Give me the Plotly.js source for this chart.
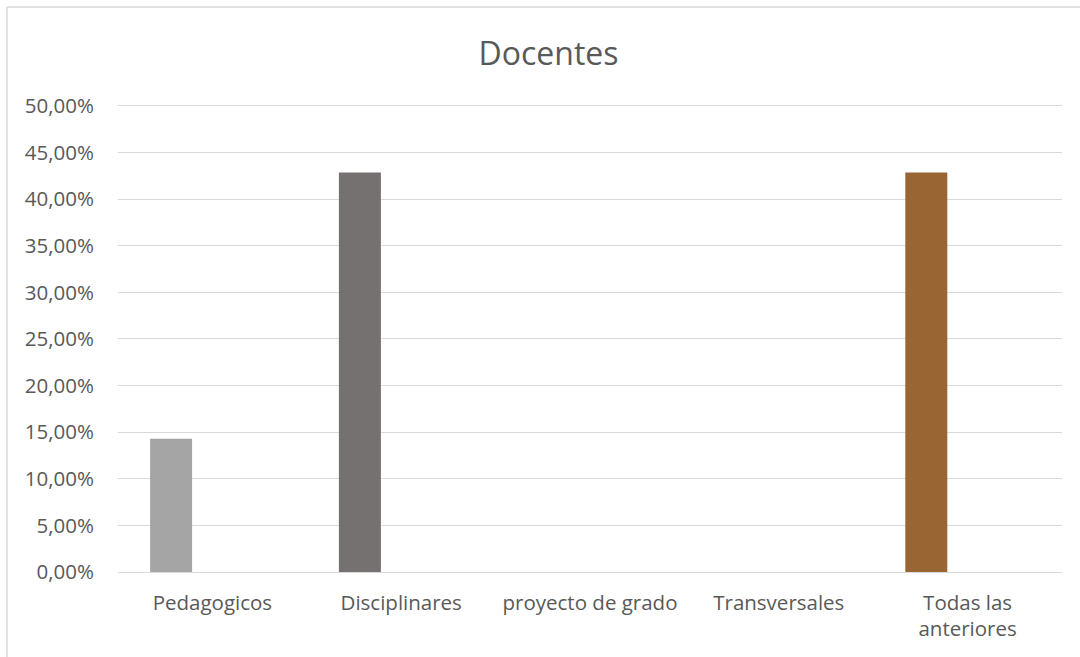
<!DOCTYPE html>
<html>
<head>
<meta charset="utf-8">
<script src="https://cdn.plot.ly/plotly-3.0.1.min.js"></script>
<style>
html,body{margin:0;padding:0;background:#fff;}
#chart{width:1080px;height:657px;}
</style>
</head>
<body>
<div id="chart"></div>
<script>
const categories = ["Pedagogicos", "Disciplinares", "proyecto de grado", "Transversales", "Todas las<br>anteriores"];
const values = [0.1429, 0.4286, 0, 0, 0.4286];
const barColors = ["#A5A5A5", "#767171", "#A5A5A5", "#767171", "#996633"];
const chartTitle = "Docentes";

const fontFamily = "Open Sans, Liberation Sans, sans-serif";
const textColor = "#595959";

const trace = {
  type: "bar",
  x: categories,
  y: values,
  marker: {color: barColors},
  width: 0.2225,
  offset: -0.33,
  hoverinfo: "x+y"
};

const layout = {
  width: 1080,
  height: 657,
  margin: {l: 118, r: 18, t: 104, b: 85},
  paper_bgcolor: "#ffffff",
  plot_bgcolor: "#ffffff",
  separators: ",.",
  showlegend: false,
  title: {
    text: chartTitle,
    font: {family: fontFamily, color: textColor, size: 32},
    x: (548.5 - 118) / 944, xref: "paper", xanchor: "center",
    y: 1 - 54/657, yref: "container", yanchor: "middle"
  },
  xaxis: {
    type: "category",
    showgrid: false,
    zeroline: false,
    showline: false,
    ticks: "outside",
    ticklen: 12,
    tickcolor: "rgba(0,0,0,0)",
    tickfont: {family: fontFamily, color: textColor, size: 20.5},
    fixedrange: true
  },
  yaxis: {
    range: [0, 0.502],
    dtick: 0.05,
    tick0: 0,
    tickformat: ".2%",
    showgrid: true,
    gridcolor: "#D9D9D9",
    gridwidth: 1,
    zeroline: true,
    zerolinecolor: "#D9D9D9",
    zerolinewidth: 1,
    showline: false,
    ticks: "outside",
    ticklen: 19,
    tickcolor: "rgba(0,0,0,0)",
    tickfont: {family: fontFamily, color: textColor, size: 20.5},
    fixedrange: true
  },
  shapes: [
    {type: "line", xref: "paper", yref: "paper", x0: -111/944, x1: 1.1, y0: 565/468, y1: 565/468,
     line: {color: "#D9D9D9", width: 1.5}},
    {type: "line", xref: "paper", yref: "paper", x0: -111/944, x1: -111/944, y0: 565/468, y1: -0.3,
     line: {color: "#D9D9D9", width: 1.5}}
  ]
};

Plotly.newPlot("chart", [trace], layout, {displayModeBar: false, staticPlot: true});
</script>
</body>
</html>
